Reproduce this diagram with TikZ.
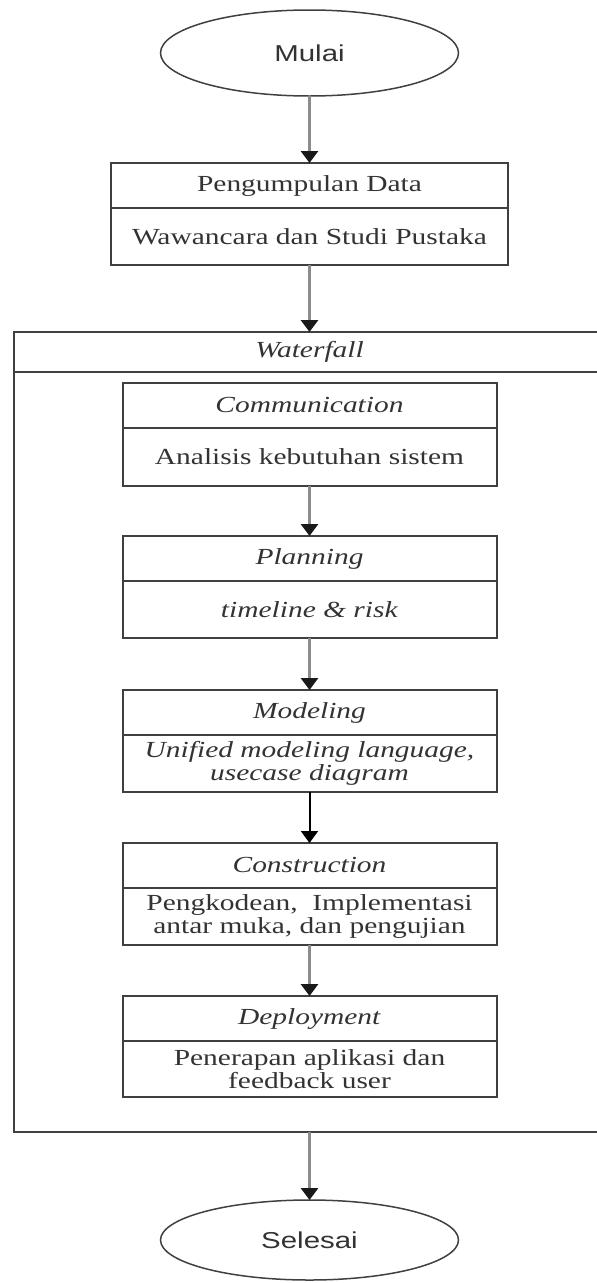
\documentclass[tikz,border=0pt]{standalone}
\usepackage{fontspec}
\setmainfont[FakeStretch=1.28]{Liberation Serif}
\setsansfont[FakeStretch=1.28]{Liberation Sans}
\usetikzlibrary{positioning, shapes.geometric, fit, arrows.meta}
\newcommand{\bigtxt}{\fontsize{23}{23}\selectfont}

\begin{document}
\begin{tikzpicture}[node distance=51pt,
term/.style={ellipse, draw=black!75, line width=1.5pt, minimum width=298pt, minimum height=86pt,
	inner sep=0pt, outer sep=0pt, text=black!80, font=\sffamily\bigtxt},
head/.style={rectangle, draw=black!75, line width=2pt, minimum width=374pt, minimum height=45pt,
	inner sep=0pt, outer sep=0pt, text=black!80, font=\bigtxt},
body/.style={head, minimum height=57pt, align=center},
wide/.style={minimum width=397pt},
frame/.style={draw=black!75, line width=2pt, inner sep=0pt, outer sep=0pt},
arr/.style={draw=black!45, line width=3.5pt, -{Triangle[length=12pt, width=17pt, color=black!90]}},
arrdark/.style={draw=black, line width=2pt, -{Triangle[length=12pt, width=17pt]}}]
\useasboundingbox (0,0) rectangle (597pt,-1283pt);
\node[term] (mulai) at (309.5pt,-53pt) {Mulai};
\node[head, wide, below=67pt of mulai] (kumpul) {Pengumpulan Data};
\node[body, wide, below=0pt of kumpul] (kumpulb) {Wawancara dan Studi Pustaka};
\node[head, minimum width=592pt, minimum height=40pt, below=67pt of kumpulb] (wfhead) {\textit{Waterfall}};
\node[head, below=11pt of wfhead] (comm) {\textit{Communication}};
\node[body, minimum height=58pt, below=0pt of comm] (commb) {Analisis kebutuhan sistem};
\node[head, below=50pt of commb] (plan) {\textit{Planning}};
\node[body, below=0pt of plan] (planb) {\textit{timeline \& risk}};
\node[head, below=52pt of planb] (model) {\textit{Modeling}};
\node[body, below=0pt of model] (modelb) {\textit{Unified modeling language,}\\\textit{usecase diagram}};
\node[head, below=51pt of modelb] (constr) {\textit{Construction}};
\node[body, below=0pt of constr] (constrb) {Pengkodean,~ Implementasi\\antar muka, dan pengujian};
\node[head, below=51pt of constrb] (deploy) {\textit{Deployment}};
\node[body, minimum height=56pt, below=0pt of deploy] (deployb) {Penerapan aplikasi dan\\feedback user};
\coordinate[below=35pt of deployb] (wfend);
\node[frame, fit=(wfhead) (wfend)] (wf) {};
\node[term, minimum height=80pt, below=68pt of wf] (selesai) {Selesai};
\draw[arr] (mulai) -- (kumpul);
\draw[arr] (kumpulb) -- (wfhead);
\draw[arr] (commb) -- (plan);
\draw[arr] (planb) -- (model);
\draw[arrdark] (modelb) -- (constr);
\draw[arr] (constrb) -- (deploy);
\draw[arr] (wf) -- (selesai);
\end{tikzpicture}
\end{document}
